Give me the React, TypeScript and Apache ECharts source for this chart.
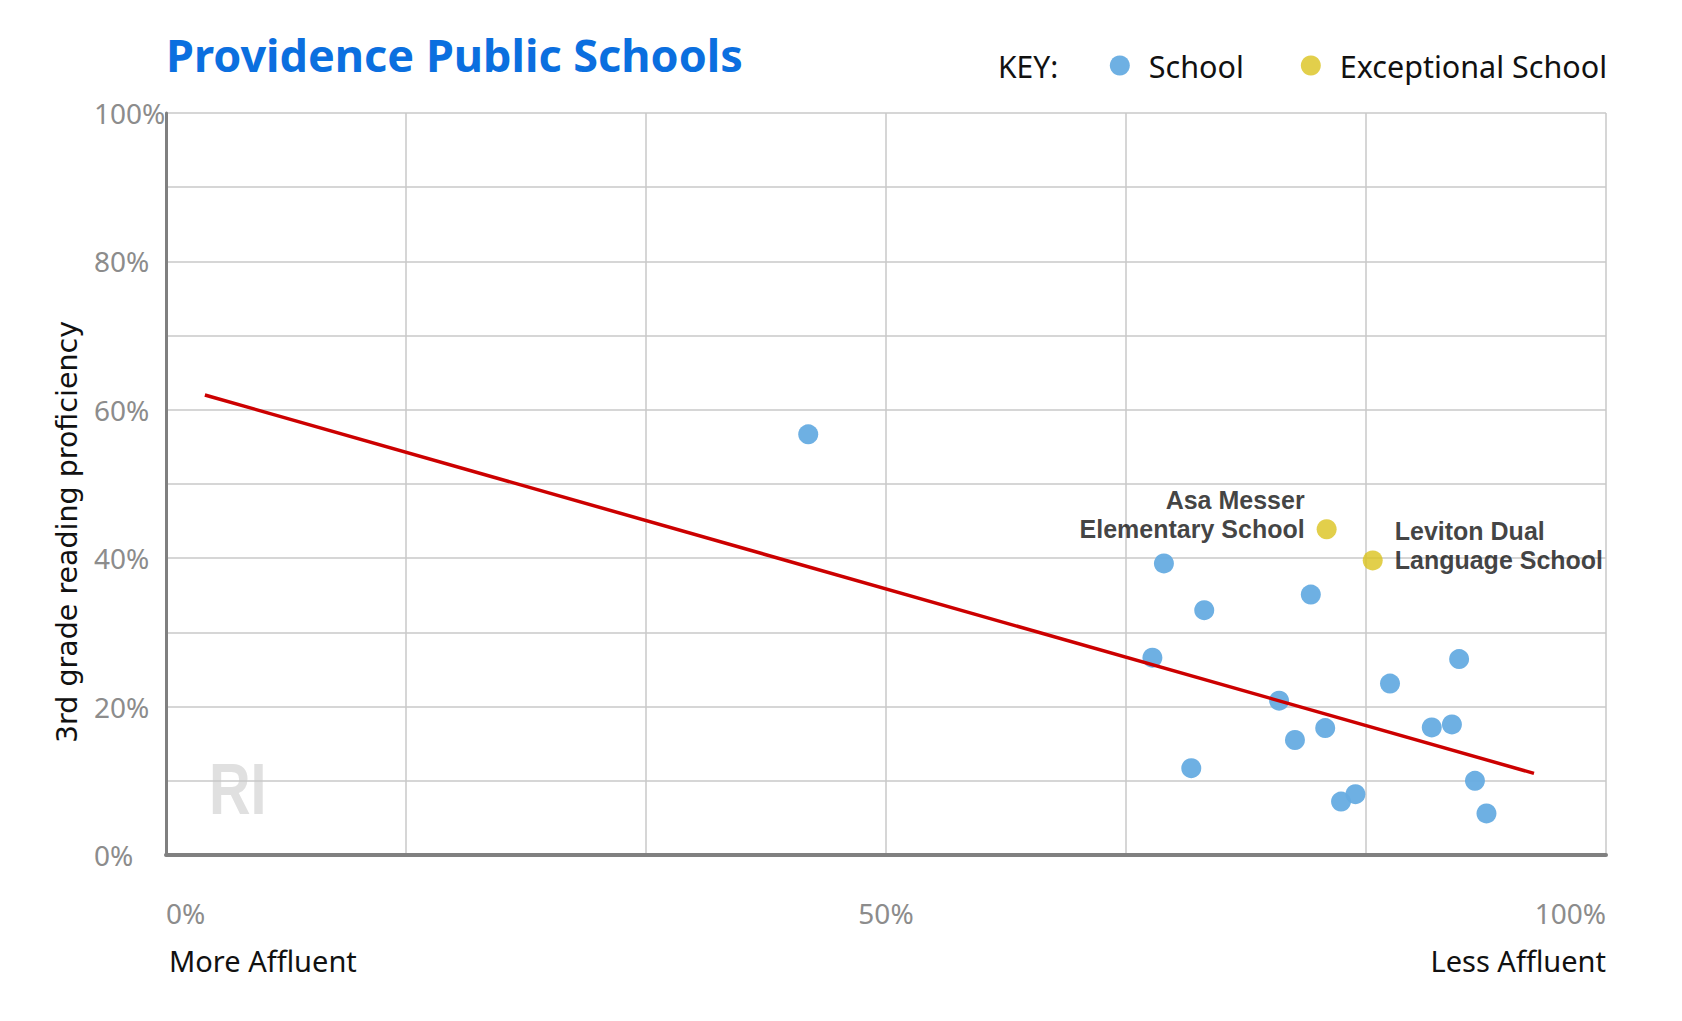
import React, { useEffect, useRef } from 'react';
import * as echarts from 'echarts';

// x: share of disadvantaged students (%), y: 3rd grade reading proficiency (%)
const schoolX = [44.6, 69.3, 72.1, 79.5, 68.5, 77.3, 85.0, 89.8, 80.5, 78.4, 71.2, 87.9, 89.3, 90.9, 91.7, 81.6, 82.6];
const schoolY = [56.7, 39.3, 33.0, 35.1, 26.6, 20.8, 23.1, 26.4, 17.1, 15.5, 11.7, 17.2, 17.6, 10.0, 5.6, 7.2, 8.2];

const exceptionalNames = ['Asa Messer\nElementary School', 'Leviton Dual\nLanguage School'];
const exceptionalX = [80.6, 83.8];
const exceptionalY = [43.9, 39.7];

const trendX = [2.7, 95.0];
const trendY = [62.0, 11.0];

const xLabelValues = [0, 50, 100];
const FONT = '"Noto Sans", "Open Sans", sans-serif';

const App: React.FC = () => {
  const chartRef = useRef<HTMLDivElement>(null);

  useEffect(() => {
    if (!chartRef.current) return;
    const chart = echarts.init(chartRef.current, undefined, { renderer: 'svg' });

    const option: echarts.EChartsOption = {
      animation: false,
      backgroundColor: '#fff',
      textStyle: { fontFamily: FONT },
      title: {
        text: 'Providence Public Schools',
        left: 161,
        top: 27,
        textStyle: { fontSize: 45, fontWeight: 'bold', color: '#0b6fdf', fontFamily: FONT }
      },
      legend: {
        right: 70,
        top: 45,
        icon: 'circle',
        itemWidth: 20,
        itemHeight: 20,
        itemGap: 57,
        data: ['School', 'Exceptional School'],
        textStyle: { fontSize: 30.5, color: '#111', padding: [0, 0, 0, 14], fontFamily: FONT }
      },
      grid: { left: 166, top: 113, right: 76, bottom: 166 },
      xAxis: {
        type: 'value',
        min: 0,
        max: 100,
        interval: 100 / 6,
        axisLine: { show: true, onZero: false, lineStyle: { color: '#808080', width: 4 } },
        axisTick: { show: false },
        splitLine: { show: true, lineStyle: { color: '#c8c8c8', width: 1.5 } },
        axisLabel: {
          margin: 44,
          fontSize: 28,
          color: '#8c8c8c',
          alignMinLabel: 'left',
          alignMaxLabel: 'right',
          formatter: (v: number) => {
            const r = Math.round(v);
            return Math.abs(v - r) < 1e-6 && xLabelValues.includes(r) ? `${r}%` : '';
          }
        } as any
      },
      yAxis: {
        type: 'value',
        min: 0,
        max: 100,
        interval: 10,
        axisLine: { show: true, lineStyle: { color: '#808080', width: 3 } },
        axisTick: { show: false },
        splitLine: { show: true, lineStyle: { color: '#c8c8c8', width: 1.5 } },
        axisLabel: {
          margin: 72,
          align: 'left',
          fontSize: 28,
          color: '#8c8c8c',
          formatter: (v: number) => (v % 20 === 0 ? `${v}%` : '')
        }
      },
      graphic: [
        {
          type: 'text',
          left: 998,
          top: 51,
          style: { text: 'KEY:', fill: '#111', font: `30px ${FONT}` }
        },
        {
          type: 'text',
          x: 67,
          y: 532,
          rotation: Math.PI / 2,
          style: {
            text: '3rd grade reading proficiency',
            fill: '#111',
            font: '28.5px "DejaVu Sans", sans-serif',
            align: 'center',
            verticalAlign: 'middle'
          }
        },
        {
          type: 'text',
          left: 169,
          top: 946,
          style: { text: 'More Affluent', fill: '#111', font: `29px ${FONT}` }
        },
        {
          type: 'text',
          right: 76,
          top: 946,
          style: { text: 'Less Affluent', fill: '#111', font: `29px ${FONT}` }
        },
        {
          type: 'text',
          x: 209,
          y: 789,
          scaleX: 0.8,
          z: 0,
          style: {
            text: 'RI',
            fill: '#e0e0e0',
            font: 'bold 72px "Liberation Sans", sans-serif',
            verticalAlign: 'middle'
          }
        }
      ],
      series: [
        {
          name: 'School',
          type: 'scatter',
          symbolSize: 20,
          itemStyle: { color: '#66ace2', opacity: 0.95 },
          data: schoolX.map((x, i) => [x, schoolY[i]]),
          z: 3
        },
        {
          name: 'Exceptional School',
          type: 'scatter',
          symbolSize: 20,
          itemStyle: { color: '#dbc31e' },
          data: exceptionalX.map((x, i) => ({
            value: [x, exceptionalY[i]],
            label: {
              show: true,
              formatter: exceptionalNames[i],
              position: i === 0 ? 'left' : 'right',
              align: i === 0 ? 'right' : 'left',
              distance: 12,
              offset: [0, -14.5],
              fontSize: 25,
              lineHeight: 29,
              fontWeight: 'bold',
              color: '#111',
              fontFamily: '"Liberation Sans", Arial, sans-serif'
            }
          })),
          z: 3
        },
        {
          type: 'line',
          data: trendX.map((x, i) => [x, trendY[i]]),
          symbol: 'none',
          lineStyle: { color: '#cc0000', width: 3.5 },
          z: 4,
          silent: true
        }
      ]
    };

    chart.setOption(option);
    return () => chart.dispose();
  }, []);

  return (
    <div
      ref={chartRef}
      style={{ position: 'fixed', left: 0, top: 0, width: 1682, height: 1021, background: '#fff' }}
    />
  );
};

export default App;
